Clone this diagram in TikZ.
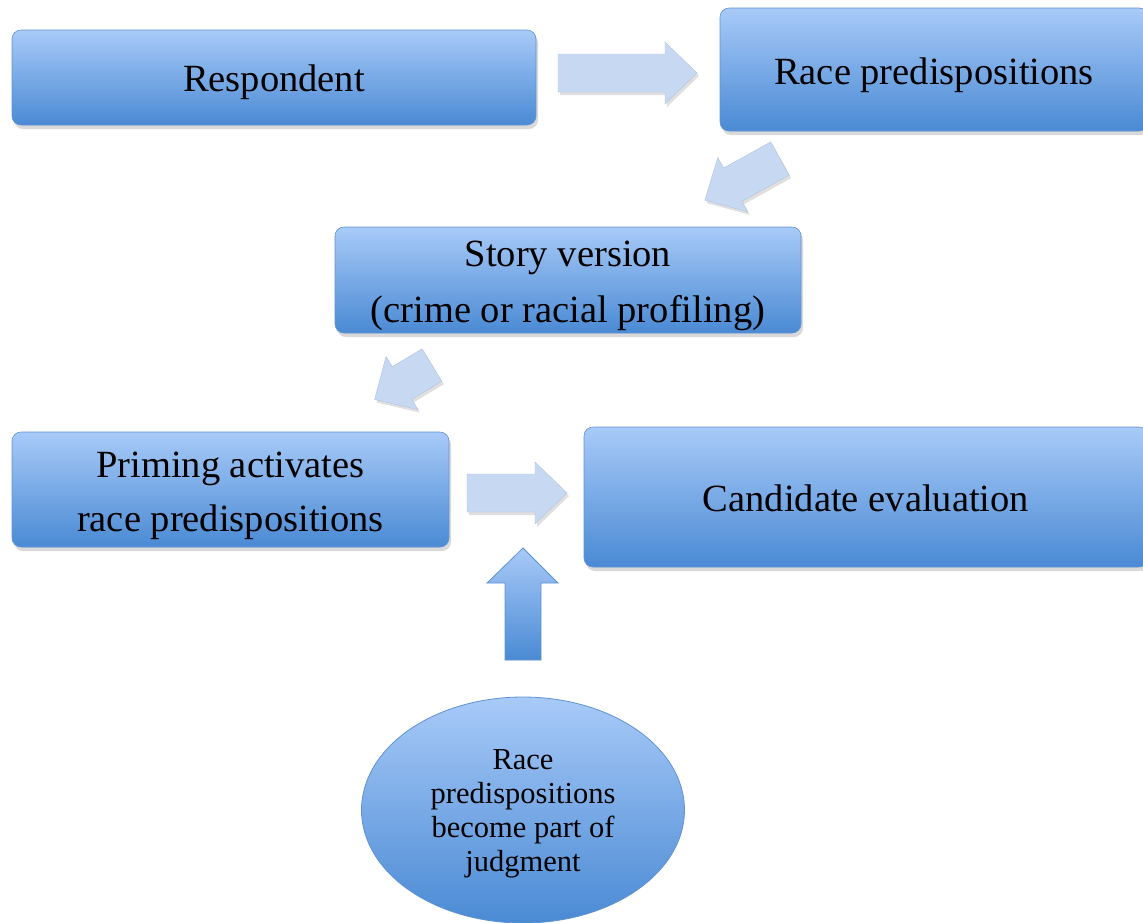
\documentclass[tikz,border=0pt]{standalone}
\usepackage{fontspec}
\setmainfont{Liberation Serif}
\usetikzlibrary{shadows,shapes.geometric}
\definecolor{boxtop}{RGB}{168,202,248}
\definecolor{boxbot}{RGB}{74,138,212}
\definecolor{boxedge}{RGB}{96,146,210}
\definecolor{arrfill}{RGB}{199,216,242}
\definecolor{arredge}{RGB}{178,194,220}
\tikzset{
  box/.style={rectangle, rounded corners=9pt, draw=boxedge, line width=0.6pt,
    top color=boxtop, bottom color=boxbot, inner sep=0pt,
    drop shadow={opacity=0.3, shadow xshift=2pt, shadow yshift=-4pt}},
  boxtext/.style={align=center, inner sep=0pt, font=\fontsize{38.5}{54}\selectfont},
  oval/.style={ellipse, draw=boxedge, line width=0.8pt,
    top color=boxtop, bottom color=boxbot, inner sep=0pt},
  ovaltext/.style={align=center, inner sep=0pt, font=\fontsize{30.5}{34}\selectfont},
  lightarrow/.style={fill=arrfill, draw=arredge, line width=0.4pt,
    drop shadow={opacity=0.25, shadow xshift=2pt, shadow yshift=-3pt}},
  darkarrow/.style={top color=boxtop, bottom color=boxbot, draw=boxedge, line width=0.8pt},
  pics/blockarrow/.style={code={
    \path[lightarrow] (0,-19) -- (#1-32,-19) -- (#1-32,-31) -- (#1,0)
      -- (#1-32,31) -- (#1-32,19) -- (0,19) -- cycle;}}
}
\begin{document}
\begin{tikzpicture}[x=1pt,y=-1pt]
\useasboundingbox (0,0) rectangle (1143,922);
\node[box, minimum width=524, minimum height=95] (resp) at (274,77.5) {};
\node[boxtext] (resptext) at ([yshift=-5pt]resp.center) {Respondent};
\node[box, minimum width=428, minimum height=123] (race) at (934,69.5) {};
\node[boxtext] (racetext) at ([yshift=-6pt]race.center) {Race predispositions};
\node[box, minimum width=466, minimum height=106] (story) at (568,280) {};
\node[boxtext, font=\fontsize{38.5}{56}\selectfont] (storytext) at ([yshift=-6pt]story.center) {Story version\\(crime or racial profiling)};
\node[box, minimum width=437, minimum height=115] (prime) at (230.5,489.5) {};
\node[boxtext] (primetext) at ([yshift=-6pt]prime.center) {Priming activates\\race predispositions};
\node[box, minimum width=564, minimum height=140] (cand) at (866,497) {};
\node[boxtext] (candtext) at ([yshift=-1pt]cand.center) {Candidate evaluation};
\node[oval, minimum width=323, minimum height=226] (judg) at (523,810) {};
\node[ovaltext] (judgtext) at ([yshift=-4pt]judg.center) {Race\\predispositions\\become part of\\judgment};
% block arrows
\pic at (558,73) {blockarrow=139};
\pic[rotate=209] at (780,158.5) {blockarrow=86};
\pic[rotate=211] at (432,365) {blockarrow=67};
\pic at (467,493) {blockarrow=100};
\coordinate (upbase) at (523,660);
\path[darkarrow] ([xshift=-18pt]upbase) -- ++(0,-77) -- ++(-18,0) -- (523,548)
  -- (558,583) -- (541,583) -- ([xshift=18pt]upbase) -- cycle;
\end{tikzpicture}
\end{document}
